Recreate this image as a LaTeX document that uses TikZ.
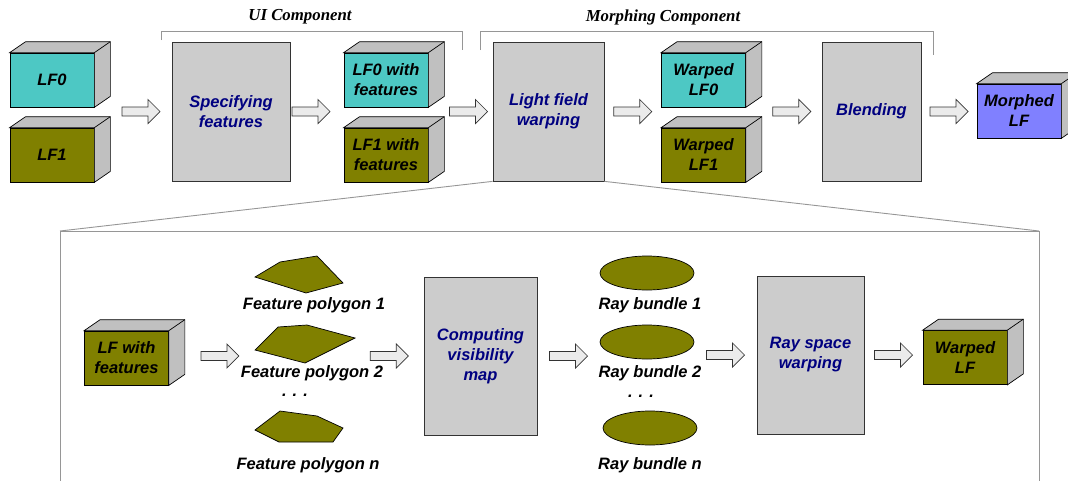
\documentclass[tikz,border=0pt]{standalone}
\usepackage{fontspec}
\setsansfont{Liberation Sans}
\newfontfamily\headfont{Liberation Serif}
\usetikzlibrary{shapes.geometric,positioning,calc}

\definecolor{lfcyan}{RGB}{77,200,196}
\definecolor{lfolive}{RGB}{128,128,0}
\definecolor{lfviolet}{RGB}{128,128,255}
\definecolor{stepgray}{RGB}{204,204,204}
\definecolor{sidegray}{RGB}{192,192,192}
\definecolor{textnavy}{RGB}{0,0,128}
\definecolor{framegray}{RGB}{150,150,150}

\tikzset{
  every picture/.style={x=1pt, y=-1pt},
  bigfont/.style={font=\sffamily\bfseries\itshape\fontsize{16.5}{20}\selectfont},
  % light field slab (front face only, the depth is added by \lfdepth)
  lf/.style={bigfont, draw, line width=0.7pt, fill=#1, minimum width=84pt, minimum height=54pt,
    inner sep=1pt, align=center},
  stepbox/.style={bigfont, draw=black!80, line width=0.7pt, fill=stepgray, text=textnavy, align=center},
  bundle/.style={ellipse, draw, line width=0.7pt, fill=lfolive, minimum width=94pt, minimum height=34pt, inner sep=0pt},
  featpoly/.style={draw, line width=0.7pt, fill=lfolive},
  caption/.style={bigfont},
  head/.style={font=\headfont\bfseries\itshape\fontsize{16.8}{20}\selectfont},
  frame/.style={draw=framegray, line width=0.9pt},
  % fat hollow arrow centred between start and target
  blockarrow/.style={draw=black!80, line width=0.7pt, fill=black!8,
    to path={let \p1=($(\tikztostart)!0.5!(\tikztotarget)$) in
      (\x1-19pt,\y1-4.5pt) -- (\x1+7pt,\y1-4.5pt) -- (\x1+7pt,\y1-12pt) -- (\x1+19pt,\y1)
      -- (\x1+7pt,\y1+12pt) -- (\x1+7pt,\y1+4.5pt) -- (\x1-19pt,\y1+4.5pt) -- cycle}}
}

% top and right faces of a slab
\newcommand{\lfdepth}[1]{%
  \draw[fill=sidegray, line width=0.7pt] (#1.north west) -- ++(16pt,11pt) -- ([shift={(16pt,11pt)}]#1.north east)
    -- ([shift={(16pt,11pt)}]#1.south east) -- (#1.south east) -- (#1.north east) -- cycle;
  \draw[line width=0.7pt] (#1.north east) -- ++(16pt,11pt);
}

\begin{document}
\begin{tikzpicture}
\useasboundingbox (0,0) rectangle (1068,480);

% ---- top row ----
\node[head] (uihead) at (300,17) {UI Component};
\node[head] (mhead) at (663,17) {Morphing Component};
\draw[frame] (161,40) -- (161,31) -- (462,31) -- (462,50);
\draw[frame] (480,50) -- (480,31) -- (933,31) -- (933,55);

\node[lf=lfcyan] (lf0) at (52,80) {LF0};
\node[lf=lfolive] (lf1) at (52,155) {LF1};
\lfdepth{lf0} \lfdepth{lf1}

\node[stepbox, minimum width=118pt, minimum height=139pt] (spec) at (231,111.5) {Specifying\\features};

\node[lf=lfcyan] (lf0f) at (386,80) {LF0 with\\features};
\node[lf=lfolive] (lf1f) at (386,155) {LF1 with\\features};
\lfdepth{lf0f} \lfdepth{lf1f}

\node[stepbox, minimum width=111pt, minimum height=139pt] (lfw) at (548.5,111.5) {Light field\\warping};

\node[lf=lfcyan] (wlf0) at (703.5,80) {Warped\\LF0};
\node[lf=lfolive] (wlf1) at (703.5,155) {Warped\\LF1};
\lfdepth{wlf0} \lfdepth{wlf1}

\node[stepbox, minimum width=99pt, minimum height=139pt] (blend) at (871.5,111.5) {Blending};

\node[lf=lfviolet] (mlf) at (1019,111) {Morphed\\LF};
\lfdepth{mlf}

\draw[blockarrow] ([xshift=16pt]lf0.east |- spec.west) to (spec.west);
\draw[blockarrow] ([xshift=-12pt]spec.east) to (lf0f.west |- spec.east);
\draw[blockarrow] ([xshift=16pt]lf0f.east |- lfw.west) to (lfw.west);
\draw[blockarrow] (lfw.east) to (wlf0.west |- lfw.east);
\draw[blockarrow] ([xshift=16pt]wlf0.east |- blend.west) to (blend.west);
\draw[blockarrow] (blend.east) to (mlf.west |- blend.east);

% ---- detail of the warping step ----
\coordinate (zl) at (60,231);
\coordinate (zr) at (1039,231);
\draw[frame] (lfw.south west) -- (zl);
\draw[frame] (lfw.south east) -- (zr);
\draw[frame] (60,490) -- (zl) -- (zr) -- (1039,490);

\node[lf=lfolive] (lfwf) at (126.5,358) {LF with\\features};
\lfdepth{lfwf}

\draw[featpoly] (255,277) -- (280,262) -- (317,256) -- (343,283) -- (306,293) -- cycle;
\draw[featpoly] (255,350) -- (278,327) -- (307,325) -- (355,338) -- (305,363) -- cycle;
\draw[featpoly] (255,430) -- (280,411) -- (317,416) -- (343,428) -- (333,442) -- (279,442) -- cycle;
\coordinate (poly2l) at (255,350);
\coordinate (poly2r) at (355,338);
\node[caption] (fp1) at (314,305) {Feature polygon 1};
\node[caption] (fp2) at (312,373) {Feature polygon 2};
\node[caption] (fpdots) at (295,395) {.\hspace{6pt}.\hspace{6pt}.};
\node[caption] (fpn) at (308,465) {Feature polygon n};

\node[stepbox, minimum width=113pt, minimum height=158pt] (comp) at (480.5,356) {Computing\\visibility\\map};

\node[bundle] (ray1) at (647,273) {};
\node[bundle] (ray2) at (647,342) {};
\node[bundle] (rayn) at (650,428) {};
\node[caption] (rb1) at (650,305) {Ray bundle 1};
\node[caption] (rb2) at (650,373) {Ray bundle 2};
\node[caption] (rbdots) at (641,396) {.\hspace{6pt}.\hspace{6pt}.};
\node[caption] (rbn) at (650,465) {Ray bundle n};

\node[stepbox, minimum width=107pt, minimum height=158pt] (rsw) at (810.5,355) {Ray space\\warping};

\node[lf=lfolive] (wlf) at (965,357.5) {Warped\\LF};
\lfdepth{wlf}

\draw[blockarrow] ([xshift=16pt]lfwf.east |- comp.west) to (poly2l |- comp.west);
\draw[blockarrow] (poly2r |- comp.west) to (comp.west);
\draw[blockarrow] (comp.east) to (ray2.west |- comp.east);
\draw[blockarrow] (ray2.east |- rsw.west) to (rsw.west);
\draw[blockarrow] (rsw.east) to (wlf.west |- rsw.east);
\end{tikzpicture}
\end{document}
